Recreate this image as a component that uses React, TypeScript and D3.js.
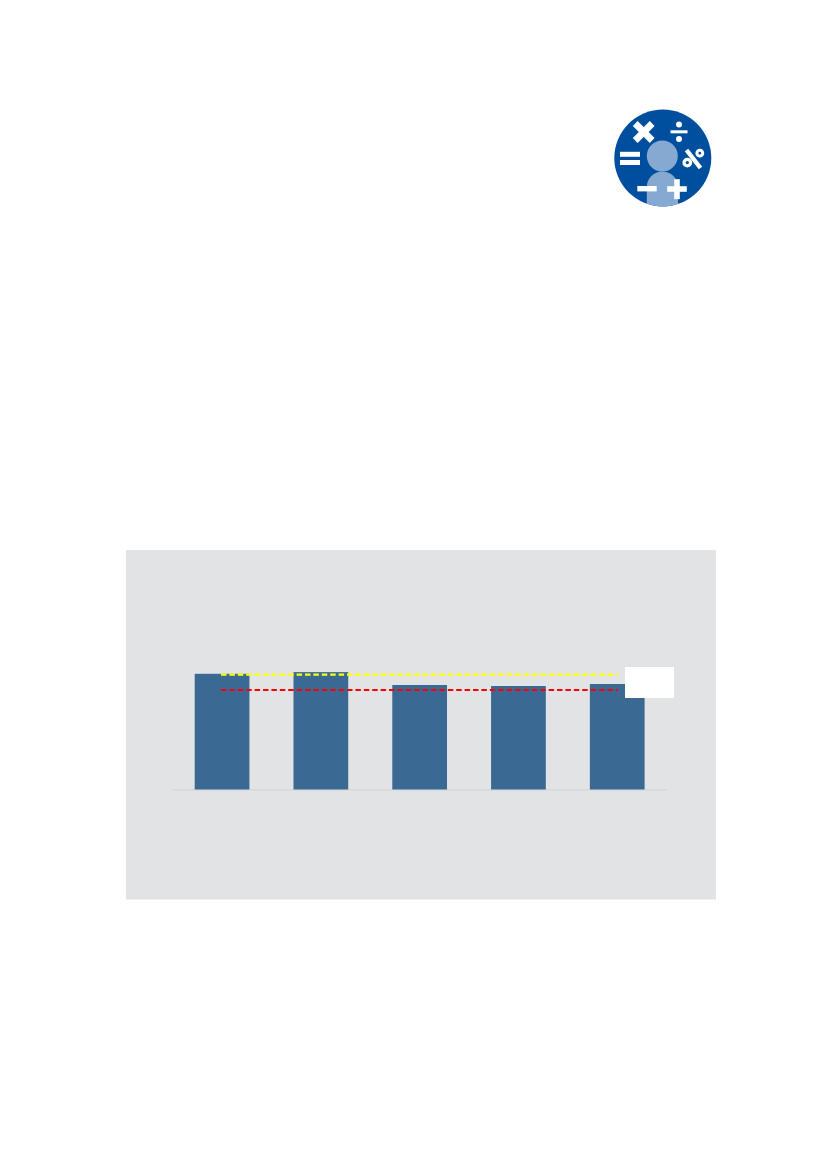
import React from "react";
import * as d3 from "d3";

const categories = ["A", "B", "C", "D", "E"];
const values = [115.7, 117.4, 104.5, 103.5, 105.5];
const yellowLevel = 114.8;
const redLevel = 99.5;

const x = d3.scaleBand<string>()
    .domain(categories)
    .range([194.7, 644.6])
    .paddingInner(0.446)
    .paddingOuter(0);

const y = d3.scaleLinear().domain([0, 120]).range([789.5, 669.5]);

const line = d3.line();

const Icon = () => (
    <g>
        <clipPath id="iconClip">
            <circle cx={662.8} cy={158} r={48.5} />
        </clipPath>
        <circle cx={662.8} cy={158} r={48.5} fill="#004f9f" />
        <g clipPath="url(#iconClip)" fill="#86a9d2">
            <circle cx={662.3} cy={156} r={15.5} />
            <path d="M646.8 210 V187 A15.6 15.6 0 0 1 678 187 V210 Z" />
        </g>
        <g fill="#fff">
            {/* times */}
            <g transform="translate(643.7 132) rotate(45)">
                <rect x={-12} y={-3.4} width={24} height={6.8} />
                <rect x={-3.4} y={-12} width={6.8} height={24} />
            </g>
            {/* divide */}
            <rect x={670.5} y={130.3} width={17} height={3} />
            <circle cx={679} cy={124.5} r={3} />
            <circle cx={679} cy={139} r={3} />
            {/* equals */}
            <rect x={620} y={151.8} width={20} height={5} />
            <rect x={620} y={160} width={20} height={5} />
            {/* minus */}
            <rect x={637.3} y={186} width={19.4} height={5.4} />
            {/* plus */}
            <rect x={667.2} y={186.2} width={19.6} height={5.6} />
            <rect x={674.2} y={179.2} width={5.6} height={20} />
        </g>
        {/* percent, leaning the way the reference glyph does */}
        <g fill="none" stroke="#fff">
            <circle cx={699.8} cy={153.2} r={2.9} strokeWidth={3} />
            <circle cx={687.3} cy={162.6} r={3.3} strokeWidth={3.2} />
            <path d="M686.5 150 L700.5 168" strokeWidth={4.4} />
        </g>
    </g>
);

export default function App() {
    return (
        <svg
            width={827}
            height={1169}
            style={{ position: "absolute", left: 0, top: 0, background: "#fff" }}
        >
            <Icon />
            <rect x={126} y={550} width={590} height={349.5} fill="#e2e3e5" />
            <rect x={172.7} y={789} width={494} height={1.6} fill="#d7d8da" />
            {categories.map((c, i) => (
                <rect
                    key={c}
                    x={x(c)}
                    y={y(values[i])}
                    width={x.bandwidth()}
                    height={y(0) - y(values[i])}
                    fill="#3a6a94"
                />
            ))}
            <path
                d={line([[221, y(yellowLevel)], [618, y(yellowLevel)]])!}
                stroke="#ffff00" strokeWidth={2.2} strokeDasharray="5.5 2.9" fill="none"
            />
            <path
                d={line([[221, y(redLevel)], [618, y(redLevel)]])!}
                stroke="#ff0000" strokeWidth={2.2} strokeDasharray="5.5 2.9" fill="none"
            />
            <rect x={625} y={667} width={49} height={31} fill="#fff" />
        </svg>
    );
}
